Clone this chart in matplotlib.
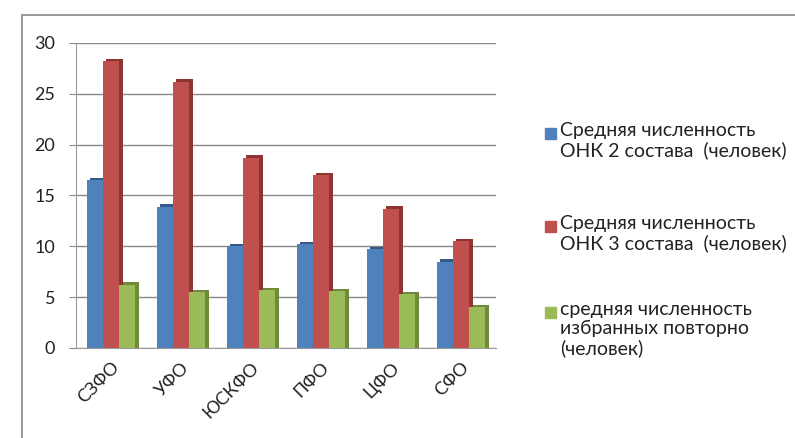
import matplotlib
matplotlib.use('Agg')
import matplotlib.pyplot as plt
from matplotlib.patches import Rectangle
import numpy as np

plt.rcParams['font.family'] = ['Lato', 'DejaVu Sans']

regions = ['СЗФО', 'УФО', 'ЮСКФО', 'ПФО', 'ЦФО', 'СФО']
onk2 = [16.5, 13.9, 10.0, 10.2, 9.7, 8.5]
onk3 = [28.2, 26.2, 18.7, 17.0, 13.7, 10.5]
repeat = [6.2, 5.5, 5.7, 5.6, 5.3, 4.0]

labels = ['Средняя численность\nОНК 2 состава  (человек)',
          'Средняя численность\nОНК 3 состава  (человек)',
          'средняя численность\nизбранных повторно\n(человек)']
colors = ['#4F81BD', '#C0504D', '#9BBB59']
sides = ['#36598A', '#8E3532', '#6E8A3A']

fig = plt.figure(figsize=(7.95, 4.38), dpi=100)
ax = fig.add_axes([76 / 795, 1 - 348 / 438, 420 / 795, 305 / 438])

x = np.arange(len(regions))
w = 0.23
depth = 0.05
for i, (vals, c, s) in enumerate(zip([onk2, onk3, repeat], colors, sides)):
    pos = x + (i - 1) * w
    # side face to fake the 3-D look
    ax.bar(pos + depth, np.array(vals) + 0.25, w, color=s, zorder=2 + i)
    ax.bar(pos, vals, w, color=c, zorder=2 + i)

ax.set_xlim(-0.5, len(regions) - 0.5)
ax.set_ylim(0, 30)
ax.set_yticks(range(0, 31, 5))
ax.set_xticks(x)
ax.set_xticklabels(regions, rotation=45, ha='right', rotation_mode='anchor', fontsize=13, color='#222222')
ax.tick_params(axis='y', labelsize=13, colors='#222222', length=5, color='#888888', pad=10)
ax.tick_params(axis='x', length=0, pad=8)
ax.grid(axis='y', color='#888888', linewidth=1)
ax.set_axisbelow(True)
for sp in ['top', 'right']:
    ax.spines[sp].set_visible(False)
for sp in ['left', 'bottom']:
    ax.spines[sp].set_color('#999999')

# legend drawn by hand so the marker sits on the first line like in Excel
leg_tops = [122, 215, 301]
for lab, c, top in zip(labels, colors, leg_tops):
    fig.text(560 / 795, 1 - top / 438, lab, fontsize=14, color='#222222',
             va='top', ha='left', linespacing=1.15)
    fig.patches.append(Rectangle((545 / 795, 1 - (top + 17) / 438), 11 / 795, 11 / 438,
                                 transform=fig.transFigure, color=c))

fig.patches.append(Rectangle((22 / 795, -0.05), 1.0, 1 - 15 / 438 + 0.05,
                             transform=fig.transFigure, fill=False,
                             edgecolor='#888888', linewidth=1.2))

fig.savefig('out.png', dpi=100)
